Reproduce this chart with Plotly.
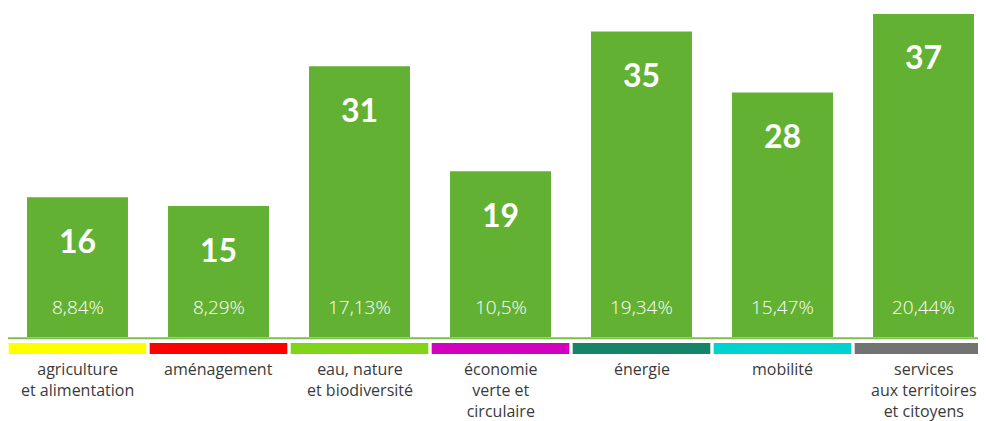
import plotly.graph_objects as go

categories = ["agriculture<br>et alimentation", "aménagement", "eau, nature<br>et biodiversité",
              "économie<br>verte et<br>circulaire", "énergie", "mobilité",
              "services<br>aux territoires<br>et citoyens"]
values = [16, 15, 31, 19, 35, 28, 37]
percent_labels = ["8,84%", "8,29%", "17,13%", "10,5%", "19,34%", "15,47%", "20,44%"]
strip_colors = ["#ffff00", "#ff0000", "#80d41a", "#d400c0", "#168468", "#00d3cf", "#737373"]

BAR = "#63b132"
K = 8.73          # px per unit
OFF = 8           # page body offset
BASE = 337 - OFF  # baseline position inside figure
xs = list(range(len(values)))

fig = go.Figure()
fig.add_trace(go.Bar(x=xs, y=values, marker=dict(color=BAR, line=dict(width=0)),
                     width=0.716, hoverinfo="skip"))

shapes = []
shapes.append(dict(type="line", xref="x", yref="y", x0=-0.5, x1=6.5, y0=-0.13, y1=-0.13,
                   line=dict(color="#7cbf4c", width=2), layer="above"))
for i, c in enumerate(strip_colors):
    shapes.append(dict(type="rect", xref="x", yref="y", x0=i - 0.488, x1=i + 0.488,
                       y0=-(354 - 337) / K, y1=-(343 - 337) / K,
                       fillcolor=c, line=dict(width=0)))

ann = []
for i, (v, p, cat) in enumerate(zip(values, percent_labels, categories)):
    ann.append(dict(x=i, y=v, xref="x", yref="y", text=f"<b>{v}</b>", showarrow=False,
                    yshift=-43, font=dict(family="Lato", size=32, color="white")))
    ann.append(dict(x=i, y=0, xref="x", yref="y", text=p, showarrow=False,
                    yshift=30, font=dict(family="Open Sans", size=19, color="white", weight=300)))
    ann.append(dict(x=i, y=-(357 - 337) / K, xref="x", yref="y", text=cat, showarrow=False,
                    yanchor="top", align="center", borderpad=0,
                    font=dict(family="Open Sans", size=16, color="#3a3a3a")))

W, H = 986 - OFF, 421 - OFF
c0 = 77.5 - OFF
fig.update_layout(
    width=W, height=H,
    margin=dict(l=0, r=0, t=0, b=0),
    paper_bgcolor="white", plot_bgcolor="white",
    showlegend=False,
    xaxis=dict(range=[-c0 / 141, (W - c0) / 141], visible=False, fixedrange=True),
    yaxis=dict(range=[-(H - BASE) / K, BASE / K], visible=False, fixedrange=True),
    shapes=shapes, annotations=ann,
)
fig.write_html("out.html", config={"displayModeBar": False})
